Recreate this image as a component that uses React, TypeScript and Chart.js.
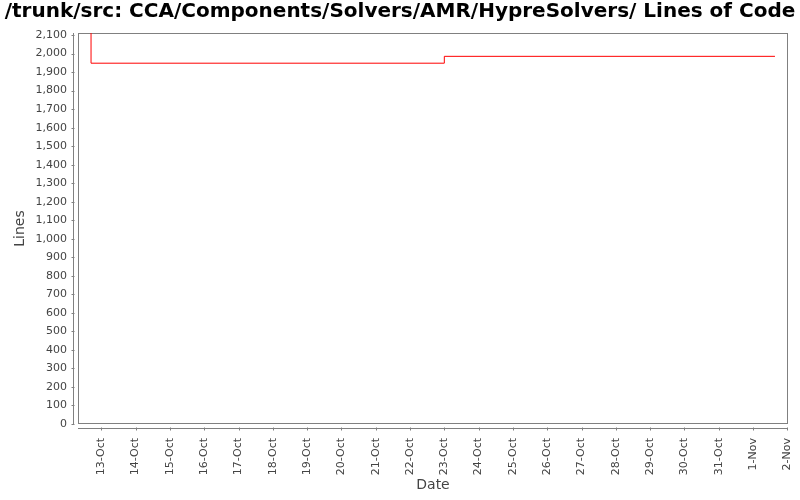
import { useEffect, useRef } from 'react';
import { Chart, ChartConfiguration, Plugin, registerables } from 'chart.js';

Chart.register(...registerables);

// days counted from 13-Oct
const tickLabels = [
  '13-Oct', '14-Oct', '15-Oct', '16-Oct', '17-Oct', '18-Oct', '19-Oct',
  '20-Oct', '21-Oct', '22-Oct', '23-Oct', '24-Oct', '25-Oct', '26-Oct',
  '27-Oct', '28-Oct', '29-Oct', '30-Oct', '31-Oct', '1-Nov', '2-Nov',
];
const yTicks = [
  0, 100, 200, 300, 400, 500, 600, 700, 800, 900, 1000,
  1100, 1200, 1300, 1400, 1500, 1600, 1700, 1800, 1900, 2000, 2100,
];
const dayOffsets = [-0.3, -0.3, 10, 19.64];
const lineCounts = [2400, 1948, 1985, 1985];

const AXIS_GRAY = '#808080';
const TEXT_GRAY = '#444444';
const FONT = '"DejaVu Sans", Verdana, sans-serif';

// JFreeChart-like frame: plot border plus axis lines set slightly apart
const framePlugin: Plugin = {
  id: 'frame',
  beforeDatasetsDraw(chart) {
    const { ctx, chartArea: a } = chart;
    const xs = chart.scales.x;
    const ys = chart.scales.y;
    ctx.save();
    ctx.strokeStyle = AXIS_GRAY;
    ctx.lineWidth = 1;
    ctx.strokeRect(a.left + 0.5, a.top + 0.5, a.right - a.left - 1, a.bottom - a.top - 1);

    const xAxisY = Math.round(a.bottom) + 4.5;
    ctx.beginPath();
    ctx.moveTo(a.left, xAxisY);
    ctx.lineTo(a.right, xAxisY);
    xs.ticks.forEach(t => {
      const px = Math.round(xs.getPixelForValue(t.value)) + 0.5;
      ctx.moveTo(px, xAxisY - 1);
      ctx.lineTo(px, xAxisY + 2);
    });
    const yAxisX = Math.round(a.left) - 4.5;
    ctx.moveTo(yAxisX, a.top);
    ctx.lineTo(yAxisX, a.bottom);
    ys.ticks.forEach(t => {
      const py = Math.round(ys.getPixelForValue(t.value)) + 0.5;
      ctx.moveTo(yAxisX + 1, py);
      ctx.lineTo(yAxisX - 2, py);
    });
    ctx.stroke();
    ctx.restore();
  },
};

export default function App() {
  const chartRef = useRef<HTMLCanvasElement>(null);

  useEffect(() => {
    if (!chartRef.current) return;
    const ctx = chartRef.current.getContext('2d');
    if (!ctx) return;

    const config: ChartConfiguration<'line'> = {
      type: 'line',
      data: {
        datasets: [{
          data: dayOffsets.map((d, i) => ({ x: d, y: lineCounts[i] })),
          borderColor: '#ff0000',
          borderWidth: 1,
          pointRadius: 0,
          stepped: true,
          fill: false,
        }],
      },
      options: {
        animation: false,
        responsive: true,
        maintainAspectRatio: false,
        layout: { padding: 0 },
        plugins: {
          legend: { display: false },
          tooltip: { enabled: false },
          title: {
            display: true,
            text: '/trunk/src: CCA/Components/Solvers/AMR/HypreSolvers/ Lines of Code',
            color: '#000000',
            font: { family: FONT, size: 20, weight: 'bold' },
            padding: { top: 0, bottom: 9 },
          },
        },
        scales: {
          x: {
            type: 'linear',
            min: -0.68,
            max: 20.02,
            border: { display: false },
            grid: { display: false, drawTicks: false },
            afterBuildTicks: scale => {
              scale.ticks = tickLabels.map((_, i) => ({ value: i }));
            },
            afterFit: scale => {
              scale.height = 76;
              scale.paddingLeft = 0;
              scale.paddingRight = 12;
            },
            ticks: {
              autoSkip: false,
              maxRotation: 90,
              minRotation: 90,
              padding: 14,
              color: TEXT_GRAY,
              font: { family: FONT, size: 11 },
              callback: v => tickLabels[Number(v)] ?? '',
            },
            title: {
              display: true,
              text: 'Date',
              color: TEXT_GRAY,
              font: { family: FONT, size: 14 },
              padding: { top: 0, bottom: 6.5 },
            },
          },
          y: {
            min: 0,
            max: 2111,
            border: { display: false },
            grid: { display: false, drawTicks: false },
            afterBuildTicks: scale => {
              scale.ticks = yTicks.map(v => ({ value: v }));
            },
            afterFit: scale => {
              scale.width = 78;
              scale.paddingTop = 0;
              scale.paddingBottom = 0;
            },
            ticks: {
              padding: 11,
              color: TEXT_GRAY,
              font: { family: FONT, size: 11 },
              callback: v => Number(v).toLocaleString('en-US'),
            },
            title: {
              display: true,
              text: 'Lines',
              color: TEXT_GRAY,
              font: { family: FONT, size: 14 },
              padding: { top: 11.5, bottom: 0 },
            },
          },
        },
      },
      plugins: [framePlugin],
    };

    const chart = new Chart(ctx, config);
    return () => {
      chart.destroy();
    };
  }, []);

  return (
    <div style={{ position: 'absolute', left: 0, top: 0, width: 800, height: 500, background: '#fff' }}>
      <canvas ref={chartRef} />
    </div>
  );
}
